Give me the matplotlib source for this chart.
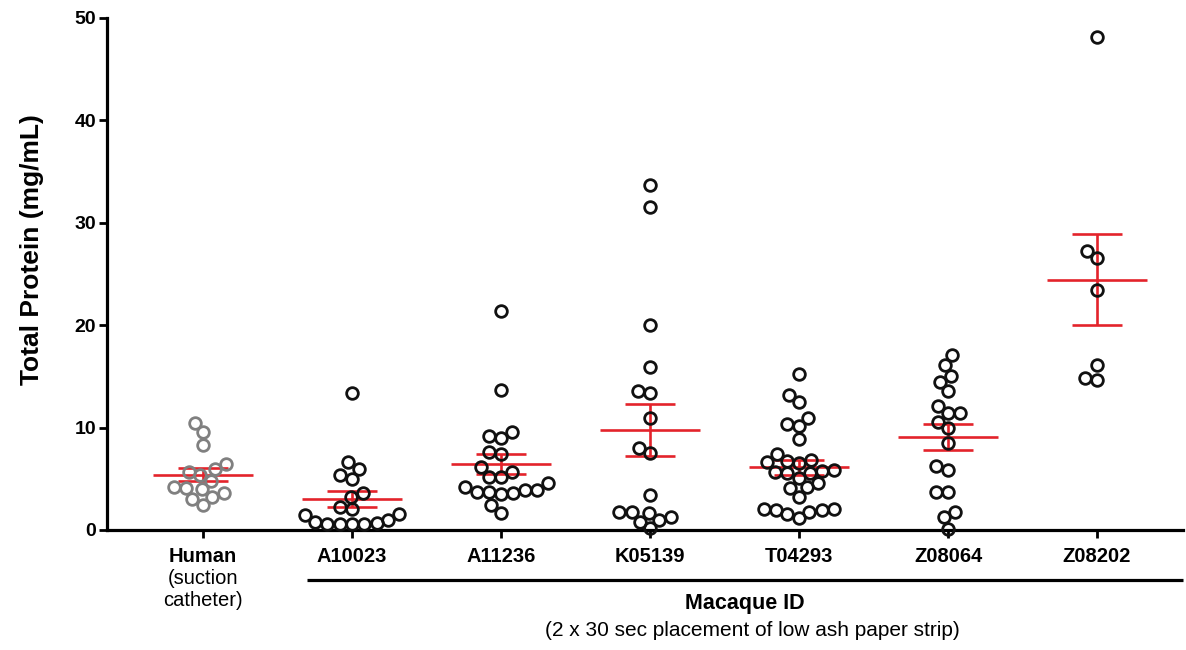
import numpy as np
import matplotlib
matplotlib.use("Agg")
import matplotlib.pyplot as plt
from matplotlib.transforms import blended_transform_factory

plt.rcParams['font.family'] = ['Liberation Sans', 'DejaVu Sans']

categories = ["Human", "A10023", "A11236", "K05139", "T04293", "Z08064", "Z08202"]

human = [3.97, 3.25, 2.44, 3.03, 3.58, 4.07, 4.23, 4.79, 5.37, 5.93, 5.70, 6.45, 8.30, 9.54, 10.42]
a10023 = [13.35, 6.60, 5.96, 5.37, 4.95, 3.58, 3.25, 2.28, 2.05, 1.53, 0.98, 0.59, 0.59, 0.59, 0.59, 0.65, 0.81, 1.46]
a11236 = [21.40, 13.67, 9.21, 9.54, 9.02, 7.59, 7.42, 6.18, 5.70, 5.14, 5.21, 4.56, 3.90, 3.74, 3.58, 3.52, 3.74, 3.90, 4.23, 2.44, 1.69]
k05139 = [33.70, 31.50, 20.00, 15.90, 13.35, 13.60, 10.90, 7.49, 7.98, 3.42, 1.79, 1.69, 0.98, 0.16, 0.81, 1.24, 1.72]
t04293 = [15.23, 13.18, 12.47, 10.35, 10.97, 10.19, 8.85, 7.42, 6.61, 6.84, 6.74, 6.51, 5.86, 5.53, 5.76, 5.53, 5.70,
          4.62, 5.05, 4.07, 4.17, 3.25, 2.02, 1.95, 1.79, 1.14, 1.53, 1.95, 2.02]
z08064 = [17.09, 16.11, 15.04, 14.49, 13.60, 12.11, 11.46, 11.46, 10.58, 9.93, 8.46, 6.25, 5.86, 3.74, 3.68, 1.72, 1.24, 0.10]
z08202 = [48.10, 27.25, 26.60, 23.44, 16.11, 14.65, 14.88]

groups = [human, a10023, a11236, k05139, t04293, z08064, z08202]
point_colors = ["#808080"] + ["#111111"] * 6

yticks = [0, 10, 20, 30, 40, 50]
ylabel = "Total Protein (mg/mL)"
human_note = "(suction\ncatheter)"
group_label = "Macaque ID"
group_note = "(2 x 30 sec placement of low ash paper strip)"

W, H, DPI = 1186, 650, 100
fig = plt.figure(figsize=(W / DPI, H / DPI), dpi=DPI)
ax_left, ax_right, ax_bottom, ax_top = 107, 1183, 530, 18
ax = fig.add_axes([ax_left / W, 1 - ax_bottom / H, (ax_right - ax_left) / W, (ax_bottom - ax_top) / H])

xlim = (-0.644, 6.577)
ylim = (0, 50)
ax.set_xlim(*xlim)
ax.set_ylim(*ylim)

px_per_x = (ax_right - ax_left) / (xlim[1] - xlim[0])
px_per_y = (ax_bottom - ax_top) / (ylim[1] - ylim[0])


def swarm_offsets(vals, dist_px):
    vals = np.asarray(vals, float)
    order = np.argsort(vals, kind="stable")
    ys = vals * px_per_y
    placed = []
    offs = np.zeros(len(vals))
    for idx in order:
        y = ys[idx]
        cands = [0.0]
        for (px, py) in placed:
            dy = y - py
            if abs(dy) < dist_px:
                dx = np.sqrt(dist_px ** 2 - dy ** 2)
                cands += [px - dx, px + dx]
        cands = sorted(cands, key=lambda c: (abs(c), c))
        chosen = cands[-1]
        for c in cands:
            ok = True
            for (px, py) in placed:
                if (c - px) ** 2 + (y - py) ** 2 < dist_px ** 2 - 1e-6:
                    ok = False
                    break
            if ok:
                chosen = c
                break
        placed.append((chosen, y))
        offs[idx] = chosen
    return offs / px_per_x


red = "#e3232b"
for i, vals in enumerate(groups):
    offs = swarm_offsets(vals, 12.3)
    ax.plot(i + offs, vals, linestyle="none", marker="o", ms=8.4, mfc="none",
            mec=point_colors[i], mew=2.0, zorder=4, clip_on=False)
    arr = np.asarray(vals)
    m = arr.mean()
    sem = arr.std(ddof=1) / np.sqrt(len(arr))
    ax.hlines(m, i - 0.335, i + 0.335, color=red, lw=1.9, zorder=3)
    ax.hlines([m - sem, m + sem], i - 0.17, i + 0.17, color=red, lw=1.9, zorder=3)
    ax.vlines(i, m - sem, m + sem, color=red, lw=1.9, zorder=3)

for s in ["top", "right"]:
    ax.spines[s].set_visible(False)
for s in ["left", "bottom"]:
    ax.spines[s].set_linewidth(2.3)
    ax.spines[s].set_color("black")

ax.set_yticks(yticks)
ax.set_yticklabels([str(t) for t in yticks], fontsize=14, fontweight="bold")
ax.tick_params(axis="y", length=6, width=2.0, pad=2)
ax.set_xticks(range(len(categories)))
ax.set_xticklabels(categories, fontsize=14.5, fontweight="bold")
ax.tick_params(axis="x", length=6, width=2.0, pad=6)

fig.text(32 / W, 1 - 250 / H, ylabel, rotation=90, ha="center", va="center",
         fontsize=19, fontweight="bold")

trans = blended_transform_factory(ax.transData, fig.transFigure)
ax.text(0, 1 - 590 / H, human_note, transform=trans, ha="center", va="center",
        fontsize=14.5, linespacing=1.2)

ax.plot([0.70, xlim[1]], [1 - 580 / H] * 2, transform=trans, color="black",
        lw=2.3, clip_on=False, solid_capstyle="butt")
fig.text(745 / W, 1 - 604 / H, group_label, ha="center", va="center",
         fontsize=15.5, fontweight="bold")
fig.text(752 / W, 1 - 631 / H, group_note, ha="center", va="center", fontsize=15)

fig.savefig("out.png", dpi=DPI)
